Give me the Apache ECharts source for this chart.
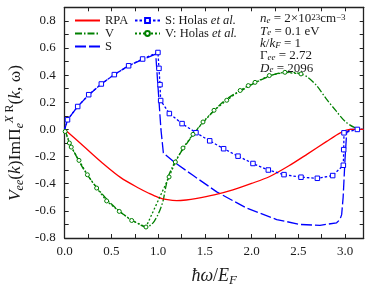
<!DOCTYPE html>
<html>
<head>
<meta charset="utf-8">
<script src="https://cdn.jsdelivr.net/npm/echarts@6/dist/echarts.min.js"></script>
<style>html,body{margin:0;padding:0;background:#fff}#c{width:374px;height:292px}</style>
</head>
<body>
<div id="c"></div>
<script>
// ---- data ----
const rpaX = [0, 0.2, 0.4, 0.6, 0.8, 0.9, 1.0, 1.1, 1.2, 1.3, 1.4, 1.6, 1.8, 2.0, 2.2, 2.4, 2.6, 2.8, 2.95, 3.06, 3.2];
const rpaY = [0, -0.122, -0.245, -0.355, -0.435, -0.47, -0.5, -0.518, -0.525, -0.52, -0.51, -0.482, -0.445, -0.398, -0.345, -0.268, -0.18, -0.09, -0.025, 0, 0];

const vX = [0, 0.05, 0.1, 0.2, 0.3, 0.4, 0.5, 0.6, 0.7, 0.8, 0.87, 0.92, 0.96, 1.0, 1.03, 1.055, 1.08, 1.11, 1.15, 1.2, 1.27, 1.3, 1.4, 1.5, 1.6, 1.7, 1.8, 1.9, 2.0, 2.1, 2.2, 2.3, 2.4, 2.5, 2.6, 2.7, 2.8, 2.9, 3.0, 3.1, 3.2];
const vY = [0, -0.09, -0.165, -0.29, -0.39, -0.475, -0.55, -0.61, -0.66, -0.7, -0.718, -0.705, -0.675, -0.625, -0.575, -0.52, -0.43, -0.345, -0.28, -0.215, -0.14, -0.11, -0.015, 0.065, 0.14, 0.205, 0.255, 0.29, 0.33, 0.365, 0.395, 0.415, 0.422, 0.415, 0.385, 0.32, 0.225, 0.14, 0.06, 0.015, 0];

const sX = [0, 0.03, 0.14, 0.26, 0.39, 0.53, 0.68, 0.83, 0.974, 1.0, 1.03, 1.056, 1.18, 1.376, 1.627, 1.948, 2.269, 2.518, 2.732, 2.91, 2.946, 2.964, 2.98, 3.0, 3.018, 3.05, 3.2];
const sY = [0, 0.07, 0.17, 0.256, 0.335, 0.404, 0.468, 0.515, 0.555, 0.3, 0.0, -0.173, -0.245, -0.34, -0.46, -0.58, -0.664, -0.7, -0.707, -0.688, -0.664, -0.628, -0.5, -0.22, -0.02, 0, 0];

const sHolasX = [0, 0.03, 0.139, 0.257, 0.392, 0.531, 0.684, 0.834, 0.998, 1.009, 1.02, 1.027, 1.12, 1.256, 1.405, 1.552, 1.701, 1.855, 2.015, 2.179, 2.347, 2.529, 2.704, 2.868, 2.982, 2.986, 2.989, 3.132];
const sHolasY = [0, 0.071, 0.169, 0.256, 0.335, 0.404, 0.469, 0.519, 0.567, 0.45, 0.33, 0.213, 0.117, 0.043, -0.024, -0.084, -0.142, -0.197, -0.251, -0.299, -0.333, -0.352, -0.36, -0.34, -0.264, -0.149, -0.025, 0];

const vHolasX = [0.005, 0.05, 0.07, 0.153, 0.243, 0.342, 0.449, 0.584, 0.717, 0.87, 1.117, 1.184, 1.266, 1.373, 1.48, 1.598, 1.734, 1.878, 1.965, 2.037, 2.19, 2.357, 2.529];
const vHolasY = [-0.015, -0.1, -0.13, -0.228, -0.334, -0.432, -0.527, -0.604, -0.671, -0.719, -0.35, -0.24, -0.137, -0.036, 0.055, 0.141, 0.215, 0.287, 0.323, 0.347, 0.397, 0.421, 0.409];

const seriesNames = ['RPA', 'V', 'S', 'S: Holas et al.', 'V: Holas et al.'];
const infoLines = [
  '{i|n}{sub|e}{n| = 2×10}{sup|23}{n|cm}{sup|−3}',
  '{i|T}{sub|e}{n| = 0.1 eV}',
  '{i|k}{n|/}{i|k}{sub|F}{n| = 1}',
  '{n|Γ}{sub|ee}{n| = 2.72}',
  '{i|D}{sub|e}{n| = 2096}'
];
const xAxisTitle = '{i|ħω}{n|/}{i|E}{sub|F}';
const yAxisTitle = '{i|V}{sub|ee}{n|(}{i|k}{n|)ImΠ}{sub|e}{supi|X}{sup| R}{n|(}{i|k}{n|, ω)}';

// ---- chart ----
const F = 'Liberation Serif';
const C = '#1a1a1a';
const zip = (xs, ys) => xs.map((x, i) => [x, ys[i]]);
const richBase = (fs, lh) => ({
  n: {fontFamily: F, fontSize: fs, color: C, lineHeight: lh},
  i: {fontFamily: F, fontSize: fs, color: C, fontStyle: 'italic', lineHeight: lh},
  sub: {fontFamily: F, fontSize: Math.round(fs * 0.7), color: C, fontStyle: 'italic', verticalAlign: 'bottom', lineHeight: lh},
  sup: {fontFamily: F, fontSize: Math.round(fs * 0.7), color: C, verticalAlign: 'top', lineHeight: lh},
  supi: {fontFamily: F, fontSize: Math.round(fs * 0.7), color: C, fontStyle: 'italic', verticalAlign: 'top', lineHeight: lh}
});

const axisCommon = {
  type: 'value',
  axisLine: {show: true, onZero: false, lineStyle: {color: '#222', width: 1.3}},
  axisTick: {show: true, inside: true, length: 4, lineStyle: {color: '#222', width: 1}},
  splitLine: {show: false}
};
const xFmt = v => {
  const k = Math.round(v * 2);
  if (Math.abs(v * 2 - k) > 1e-6 || v > 3.01) return '';
  return (k / 2).toFixed(1);
};
const yFmt = v => {
  const k = Math.round(v * 10);
  if (Math.abs(v * 10 - k) > 1e-6 || k % 2 !== 0 || k > 8) return '';
  return (k / 10).toFixed(1);
};

const chart = echarts.init(document.getElementById('c'), null, {renderer: 'canvas'});
const lw = 1.3;
const sHolasData = zip(sHolasX, sHolasY).map((p, i) => i === 0 ? {value: p, symbol: 'none'} : p);
chart.setOption({
  animation: false,
  backgroundColor: '#fff',
  grid: {left: 64.7, right: 10.3, top: 7.3, bottom: 48, containLabel: false},
  xAxis: [
    Object.assign({}, axisCommon, {
      position: 'bottom', min: 0, max: 3.2, interval: 0.25,
      axisLabel: {formatter: xFmt, fontFamily: F, fontSize: 13, color: C, margin: 7},
      name: xAxisTitle, nameLocation: 'middle', nameGap: 27,
      nameTextStyle: {rich: richBase(18, 22)}
    }),
    Object.assign({}, axisCommon, {
      position: 'top', min: 0, max: 3.2, interval: 0.25, axisLabel: {show: false}
    })
  ],
  yAxis: [
    Object.assign({}, axisCommon, {
      position: 'left', min: -0.8, max: 0.9, interval: 0.1,
      axisLabel: {formatter: yFmt, fontFamily: F, fontSize: 13, color: C, margin: 9}
    }),
    Object.assign({}, axisCommon, {
      position: 'right', min: -0.8, max: 0.9, interval: 0.1, axisLabel: {show: false}
    })
  ],
  legend: [
    {
      data: seriesNames.slice(0, 3), orient: 'vertical', left: 74, top: 14,
      padding: 0, itemGap: 0, itemWidth: 25, itemHeight: 7, itemStyle: {opacity: 0},
      textStyle: {fontFamily: F, fontSize: 12.5, color: C, lineHeight: 12.2}
    },
    {
      data: seriesNames.slice(3), orient: 'vertical', left: 134, top: 14,
      padding: 0, itemGap: 0, itemWidth: 25, itemHeight: 6,
      formatter: name => name.replace('et al.', '{it|et al.}'),
      textStyle: {fontFamily: F, fontSize: 12.5, color: C, lineHeight: 12.2,
        rich: {it: {fontFamily: F, fontSize: 12.5, color: C, fontStyle: 'italic', lineHeight: 12.2}}}
    }
  ],
  graphic: infoLines.map((t, i) => ({
    type: 'text', left: 260, top: 12.5 + i * 12.3, z: 10,
    style: {text: t, rich: richBase(13, 12.3), fill: C}
  })).concat([{
    type: 'text', x: 15, y: 133, rotation: Math.PI / 2, z: 10,
    style: {text: yAxisTitle, rich: richBase(17.5, 22), fill: C, align: 'center', verticalAlign: 'middle'}
  }]),
  series: [
    {name: seriesNames[0], type: 'line', data: zip(rpaX, rpaY), symbol: 'none', smooth: 0.3,
      lineStyle: {color: '#ff0000', width: lw, type: 'solid'}, itemStyle: {color: '#ff0000'}, z: 3},
    {name: seriesNames[1], type: 'line', data: zip(vX, vY), symbol: 'none', smooth: 0.3,
      lineStyle: {color: '#008000', width: lw, type: [7, 2, 1.5, 2]}, itemStyle: {color: '#008000'}, z: 2},
    {name: seriesNames[2], type: 'line', data: zip(sX, sY), symbol: 'none',
      lineStyle: {color: '#0000ff', width: lw, type: [11, 3]}, itemStyle: {color: '#0000ff'}, z: 2},
    {name: seriesNames[3], type: 'line', data: sHolasData, symbol: 'rect', symbolSize: 4.5,
      lineStyle: {color: '#0000ff', width: lw, type: [2.5, 2]},
      itemStyle: {color: '#ffffff', borderColor: '#0000ff', borderWidth: 1}, z: 4},
    {name: seriesNames[4], type: 'line', data: zip(vHolasX, vHolasY), symbol: 'circle', symbolSize: 4,
      lineStyle: {color: '#008000', width: lw, type: [2, 2]},
      itemStyle: {color: '#ffffff', borderColor: '#008000', borderWidth: 1}, z: 4}
  ]
});
</script>
</body>
</html>
